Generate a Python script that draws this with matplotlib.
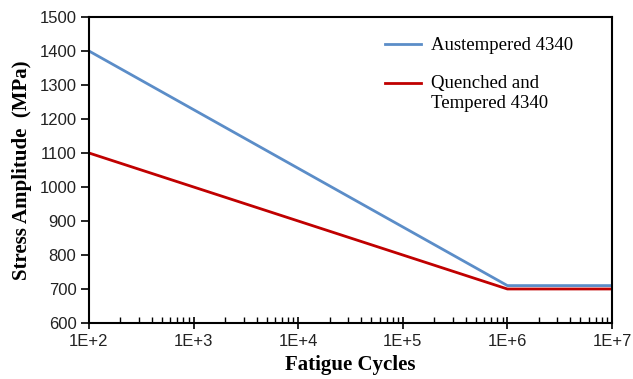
import matplotlib
matplotlib.use("Agg")
import matplotlib.pyplot as plt
from matplotlib.ticker import LogLocator, NullFormatter

cycles = [1e2, 1e6, 1e7]
austempered = [1400, 710, 710]
quenched = [1100, 700, 700]
xtick_vals = [1e2, 1e3, 1e4, 1e5, 1e6, 1e7]
xtick_labels = ["1E+2", "1E+3", "1E+4", "1E+5", "1E+6", "1E+7"]
yticks = list(range(600, 1501, 100))

fig = plt.figure(figsize=(6.33, 3.79), dpi=100)
ax = fig.add_axes([0.1406, 0.1478, 0.8262, 0.8073])

ax.plot(cycles, austempered, color="#5B8DC8", lw=2.0, label="Austempered 4340")
ax.plot(cycles, quenched, color="#C00000", lw=2.0, label="\nQuenched and\nTempered 4340")

ax.set_xscale("log")
ax.set_xlim(1e2, 1e7)
ax.set_ylim(600, 1500)
ax.set_xticks(xtick_vals)
ax.set_xticklabels(xtick_labels)
ax.xaxis.set_minor_locator(LogLocator(base=10, subs=range(2, 10), numticks=20))
ax.xaxis.set_minor_formatter(NullFormatter())
ax.set_yticks(yticks)

for lab in ax.get_xticklabels() + ax.get_yticklabels():
    lab.set_fontfamily("Liberation Sans")
    lab.set_fontsize(12)
    lab.set_color("#222222")

ax.tick_params(axis="y", which="major", direction="out", length=6, width=1.2, pad=3)
ax.tick_params(axis="x", which="major", direction="inout", length=8, width=1.2, pad=4)
ax.tick_params(axis="x", which="minor", direction="in", length=4, width=1.0)

for s in ax.spines.values():
    s.set_linewidth(1.5)
    s.set_color("black")

ax.set_xlabel("Fatigue Cycles", family="Liberation Serif", fontweight="bold", fontsize=15, labelpad=4)
ax.set_ylabel("Stress Amplitude  (MPa)", family="Liberation Serif", fontweight="bold", fontsize=15, labelpad=5)

leg = ax.legend(loc="upper left", bbox_to_anchor=(0.566, 0.934), frameon=False,
                borderpad=0, borderaxespad=0,
                prop=dict(family="Liberation Serif", size=13.5), handlelength=1.9,
                labelspacing=0.0, handletextpad=0.55)
for t in leg.get_texts():
    t.set_linespacing(1.25)

fig.savefig("out.png", dpi=100)
